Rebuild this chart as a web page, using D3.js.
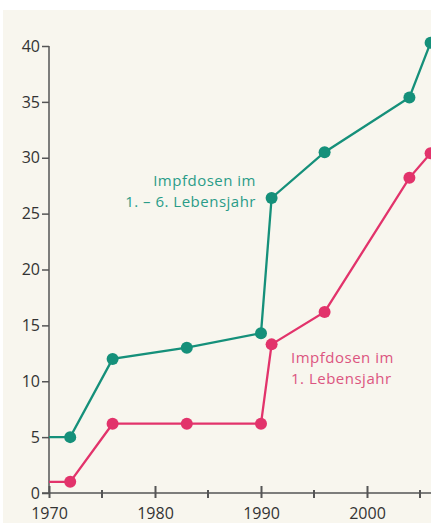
<!DOCTYPE html>
<html>
<head>
<meta charset="utf-8">
<script src="https://cdn.jsdelivr.net/npm/d3@7"></script>
<style>
  body { margin: 0; background: #fff; }
  svg { display: block; }
  text { font-family: "Open Sans", "Noto Sans", sans-serif; }
</style>
</head>
<body>
<div id="container"></div>
<script>
// data
const years = [1970, 1972, 1976, 1983, 1990, 1991, 1996, 2004, 2006];
const dosesChild = [5, 5, 12, 13, 14.3, 26.4, 30.5, 35.4, 40.3];   // 1.-6. Lebensjahr
const dosesInfant = [1, 1, 6.2, 6.2, 6.2, 13.3, 16.2, 28.2, 30.4];  // 1. Lebensjahr
const yTicks = [0, 5, 10, 15, 20, 25, 30, 35, 40];
const xMajor = [1970, 1980, 1990, 2000];
const xMinor = [1975, 1985, 1995, 2005];
const labelChild = ["Impfdosen im", "1. \u2013 6. Lebensjahr"];
const labelInfant = ["Impfdosen im", "1. Lebensjahr"];

const width = 431, height = 527;
const green = "#15907a", pink = "#e2336b";

const svg = d3.select("#container").append("svg")
    .attr("width", width)
    .attr("height", height);

svg.append("rect")
    .attr("x", 3).attr("y", 10)
    .attr("width", width - 3).attr("height", height - 14)
    .attr("fill", "#f8f6ee");

const x = d3.scaleLinear().domain([1970, 2000]).range([49, 367]);
const y = d3.scaleLinear().domain([0, 40]).range([493, 46]);

// y axis
const yAxis = svg.append("g")
    .attr("transform", "translate(49,0)")
    .call(d3.axisLeft(y).tickValues(yTicks).tickSize(7).tickPadding(2));
yAxis.select(".domain").remove();
yAxis.append("line")
    .attr("x1", 0).attr("x2", 0)
    .attr("y1", y(40)).attr("y2", y(0))
    .attr("stroke", "#555").attr("stroke-width", 1.5);
yAxis.selectAll(".tick line").attr("stroke", "#555").attr("stroke-width", 1.5);
yAxis.selectAll(".tick text")
    .attr("fill", "#333")
    .style("font-size", "16px");

// x axis
svg.append("line")
    .attr("x1", x(1970) - 7).attr("x2", width)
    .attr("y1", y(0)).attr("y2", y(0))
    .attr("stroke", "#555").attr("stroke-width", 1.5);

const xAxis = svg.append("g")
    .attr("transform", `translate(0,${y(0)})`)
    .call(d3.axisBottom(x).tickValues(xMajor).tickFormat(d3.format("d")).tickSize(5).tickPadding(10));
xAxis.select(".domain").remove();
xAxis.selectAll(".tick line")
    .attr("y1", -7).attr("y2", 5)
    .attr("stroke", "#555").attr("stroke-width", 2);
xAxis.selectAll(".tick text")
    .attr("fill", "#333")
    .style("font-size", "16px");

svg.selectAll(".minor")
    .data(xMinor)
    .enter().append("line")
    .attr("class", "minor")
    .attr("x1", d => x(d)).attr("x2", d => x(d))
    .attr("y1", y(0) - 3).attr("y2", y(0) + 5)
    .attr("stroke", "#555").attr("stroke-width", 2);

// lines
const line = d3.line()
    .x(d => x(d[0]))
    .y(d => y(d[1]));

function drawSeries(values, color) {
    const pts = years.map((yr, i) => [yr, values[i]]);
    svg.append("path")
        .datum(pts)
        .attr("fill", "none")
        .attr("stroke", color)
        .attr("stroke-width", 2.3)
        .attr("d", line);
    svg.append("g")
        .selectAll("circle")
        .data(pts.slice(1))
        .enter().append("circle")
        .attr("cx", d => x(d[0]))
        .attr("cy", d => y(d[1]))
        .attr("r", 6)
        .attr("fill", color);
}

drawSeries(dosesInfant, pink);
drawSeries(dosesChild, green);

// labels, one text per line
function drawLabel(lines, tx, ty, anchor, color) {
    svg.append("g")
        .selectAll("text")
        .data(lines)
        .enter().append("text")
        .attr("x", tx)
        .attr("y", (d, i) => ty + i * 21)
        .attr("text-anchor", anchor)
        .attr("fill", color)
        .style("font-size", "15px")
        .style("letter-spacing", "0.5px")
        .text(d => d);
}

drawLabel(labelChild, 256, 186, "end", "#2a9c88");
drawLabel(labelInfant, 291, 363, "start", "#dc5580");
</script>
</body>
</html>
